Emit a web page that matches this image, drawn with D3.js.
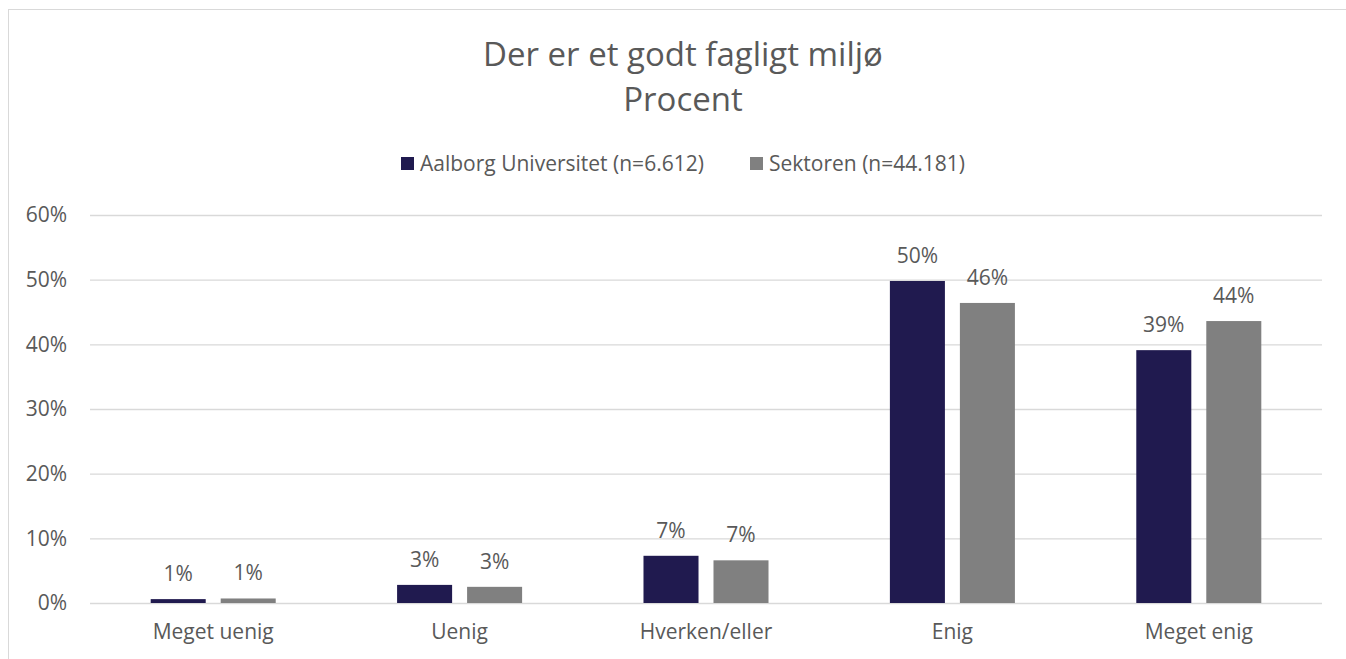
<!DOCTYPE html>
<html>
<head>
<meta charset="utf-8">
<script src="https://cdn.jsdelivr.net/npm/d3@7"></script>
<style>
  body { margin: 0; background: #fff; }
  text { font-family: "Open Sans", sans-serif; fill: #595959; }
</style>
</head>
<body>
<svg width="1346" height="659"></svg>
<script>
// Data
var categories = ["Meget uenig", "Uenig", "Hverken/eller", "Enig", "Meget enig"];
var seriesNames = ["Aalborg Universitet (n=6.612)", "Sektoren (n=44.181)"];
var aau = [0.6, 2.8, 7.3, 49.8, 39.1];
var sektor = [0.7, 2.5, 6.6, 46.4, 43.6];
var yTicks = [0, 10, 20, 30, 40, 50, 60];
var colors = ["#201A4F", "#808080"];

var svg = d3.select("svg"),
    margin = {top: 215, right: 24, bottom: 56, left: 90},
    width = 1322 - margin.left,
    height = 603 - margin.top,
    g = svg.append("g")
      .attr("transform", "translate(" + margin.left + "," + margin.top + ")");

// chart frame
svg.append("rect")
  .attr("x", 8.5).attr("y", 9.5)
  .attr("width", 1400).attr("height", 700)
  .attr("fill", "none")
  .attr("stroke", "#d9d9d9");

var data = categories.map(function(c, i) {
  return {cat: c, values: [aau[i], sektor[i]]};
});

// Scales
var x0 = d3.scaleBand().domain(categories).range([0, width]).paddingInner(0).paddingOuter(0);
var x1 = d3.scaleBand().domain([0, 1]).range([0, x0.bandwidth()]).paddingInner(0.214).paddingOuter(0.867);
var y = d3.scaleLinear().domain([0, 60]).range([height, 0]);

// Gridlines
g.selectAll(".grid")
  .data(yTicks)
  .enter().append("line")
    .attr("x1", 0).attr("x2", width)
    .attr("y1", function(d) { return y(d) + 0.5; })
    .attr("y2", function(d) { return y(d) + 0.5; })
    .attr("stroke", "#d9d9d9")
    .attr("stroke-width", 1.3);

// Y axis
var yAxis = g.append("g")
  .call(d3.axisLeft(y).tickValues(yTicks).tickSize(0).tickPadding(23)
    .tickFormat(function(d) { return d + "%"; }));
yAxis.select(".domain").remove();
yAxis.selectAll("text").style("font-size", "21px").attr("fill", "#595959");

// X axis
var xAxis = g.append("g")
  .attr("transform", "translate(0," + height + ")")
  .call(d3.axisBottom(x0).tickSize(0).tickPadding(21));
xAxis.select(".domain").remove();
xAxis.selectAll("text").style("font-size", "21px").attr("fill", "#595959");

// Bars
var groups = g.selectAll(".cat")
  .data(data)
  .enter().append("g")
    .attr("transform", function(d) { return "translate(" + x0(d.cat) + ",0)"; });

groups.selectAll("rect")
  .data(function(d) { return d.values; })
  .enter().append("rect")
    .attr("x", function(d, i) { return x1(i); })
    .attr("y", function(d) { return y(d); })
    .attr("width", x1.bandwidth())
    .attr("height", function(d) { return height - y(d); })
    .attr("fill", function(d, i) { return colors[i]; });

groups.selectAll(".lbl")
  .data(function(d) { return d.values; })
  .enter().append("text")
    .attr("x", function(d, i) { return x1(i) + x1.bandwidth() / 2; })
    .attr("y", function(d) { return y(d) - 18; })
    .attr("text-anchor", "middle")
    .style("font-size", "21px")
    .text(function(d) { return Math.round(d) + "%"; });

// Title
svg.append("text")
  .attr("x", 683).attr("y", 66)
  .attr("text-anchor", "middle")
  .style("font-size", "33px")
  .text("Der er et godt fagligt miljø");
svg.append("text")
  .attr("x", 683).attr("y", 111)
  .attr("text-anchor", "middle")
  .style("font-size", "33px")
  .text("Procent");

// Legend
var legendX = [401, 750];
var legend = svg.selectAll(".legend")
  .data(seriesNames)
  .enter().append("g")
    .attr("transform", function(d, i) { return "translate(" + legendX[i] + ",157)"; });
legend.append("rect")
  .attr("width", 13).attr("height", 13)
  .attr("fill", function(d, i) { return colors[i]; });
legend.append("text")
  .attr("x", 19).attr("y", 14)
  .style("font-size", "21px")
  .text(function(d) { return d; });
</script>
</body>
</html>
